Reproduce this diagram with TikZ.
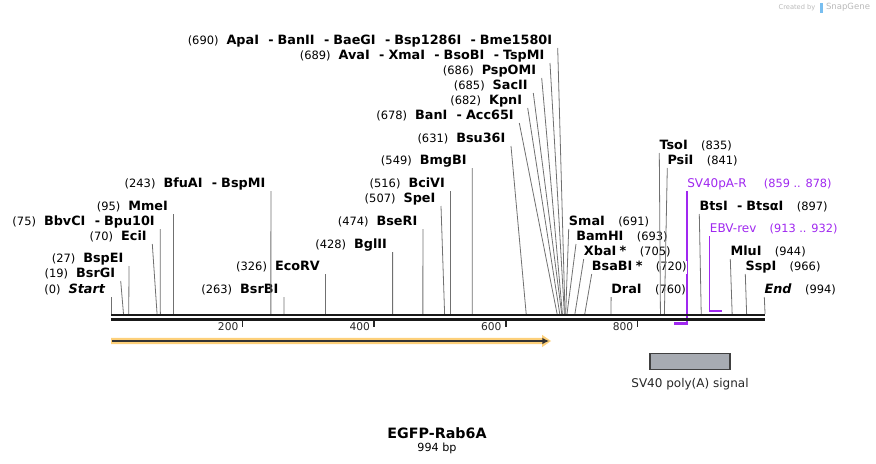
\documentclass[tikz,border=0pt]{standalone}
\usepackage{fontspec}
\setmainfont{DejaVu Sans}
\usepackage{xcolor}
\usetikzlibrary{arrows.meta,positioning}
\definecolor{cutgray}{RGB}{112,112,112}
\definecolor{primerpurple}{RGB}{160,40,240}
\definecolor{featorange}{RGB}{253,208,122}
\definecolor{boxgray}{RGB}{167,171,178}
\definecolor{markgray}{RGB}{185,185,185}
\definecolor{markblue}{RGB}{120,190,240}
\newcommand{\sitepos}[1]{{\mdseries\fontsize{8.6}{9}\selectfont(#1)}}
\newcommand{\enzsep}{\hspace{7pt}-\hspace{3pt}}

\begin{document}
\begin{tikzpicture}[x=0.75pt, y=-0.75pt,
    lsite/.style={anchor=south east, inner xsep=4pt, inner ysep=0pt,
        text height=7pt, text depth=2.5pt, font=\bfseries\fontsize{9.6}{10}\selectfont},
    rsite/.style={lsite, anchor=south west, inner xsep=0pt, fill=white},
    plabel/.style={rsite, font=\fontsize{9}{10}\selectfont, text=primerpurple},
    cut/.style={cutgray, line width=0.6pt},
    primer/.style={primerpurple, line width=1.1pt}]
    \useasboundingbox (0,0) rectangle (876,464);

    % cut sites on the sequence line
    \foreach \p in {0,19,27,70,75,95,243,263,326,428,474,507,516,549,631,678,682,685,686,689,690,
                    691,693,705,720,760,835,841,897,944,966,994}
        \coordinate (c\p) at ({111+0.658*\p},314);

    % primers
    \node (sv40r) at (687,191) [plabel] {SV40pA-R\hspace{13pt}{\fontsize{8.5}{10}\selectfont(859 .. 878)}};
    \node (ebv) at (709.7,236) [plabel] {EBV-rev\hspace{10pt}{\fontsize{8.5}{10}\selectfont(913 .. 932)}};
    \coordinate (p878) at (687,323.5);
    \coordinate (p859) at (674.3,323.5);
    \coordinate (e913) at (709.7,310.7);
    \coordinate (e932) at (722,310.7);
    \draw [primer] (sv40r.south west) -- (p878);
    \draw [primer, line width=1.8pt] ([xshift=0.4pt]p878) -- (p859);
    \draw [primer] (ebv.south west) -- (e913);
    \draw [primer, line width=1.8pt] ([xshift=-0.4pt]e913) -- (e932);

    % enzymes left of their line
    \node (start) at (111,297) [lsite] {\sitepos{0}\hspace{6pt}\textit{Start}};
    \node (bsrgi) at (120.7,281) [lsite] {\sitepos{19}\hspace{6pt}BsrGI};
    \node (bspei) at (129,266) [lsite] {\sitepos{27}\hspace{6pt}BspEI};
    \node (ecii) at (152.3,244) [lsite] {\sitepos{70}\hspace{6pt}EciI};
    \node (bbvci) at (160.3,229) [lsite] {\sitepos{75}\hspace{6pt}BbvCI\enzsep Bpu10I};
    \node (mmei) at (173.5,214) [lsite] {\sitepos{95}\hspace{6pt}MmeI};
    \node (bfuai) at (270.9,191) [lsite] {\sitepos{243}\hspace{6pt}BfuAI\enzsep BspMI};
    \node (bsrbi) at (284,297) [lsite] {\sitepos{263}\hspace{6pt}BsrBI};
    \node (ecorv) at (325.5,274) [lsite] {\sitepos{326}\hspace{6pt}EcoRV};
    \node (bglii) at (392.6,252) [lsite] {\sitepos{428}\hspace{6pt}BglII};
    \node (bseri) at (422.9,229) [lsite] {\sitepos{474}\hspace{6pt}BseRI};
    \node (spei) at (441,206) [lsite] {\sitepos{507}\hspace{6pt}SpeI};
    \node (bcivi) at (450.5,191) [lsite] {\sitepos{516}\hspace{6pt}BciVI};
    \node (bmgbi) at (472.2,168) [lsite] {\sitepos{549}\hspace{6pt}BmgBI};
    \node (bsu) at (511,146) [lsite] {\sitepos{631}\hspace{6pt}Bsu36I};
    \node (bani) at (519.3,123) [lsite] {\sitepos{678}\hspace{6pt}BanI\enzsep Acc65I};
    \node (kpni) at (527.7,108) [lsite] {\sitepos{682}\hspace{6pt}KpnI};
    \node (sacii) at (533.3,93) [lsite] {\sitepos{685}\hspace{6pt}SacII};
    \node (pspomi) at (541.7,78) [lsite] {\sitepos{686}\hspace{6pt}PspOMI};
    \node (avai) at (550,63) [lsite] {\sitepos{689}\hspace{6pt}AvaI\enzsep XmaI\enzsep BsoBI\enzsep TspMI};
    \node (apai) at (557.7,48) [lsite] {\sitepos{690}\hspace{6pt}ApaI\enzsep BanII\enzsep BaeGI\enzsep Bsp1286I\enzsep Bme1580I};

    % enzymes right of their line
    \node (smai) at (568.7,229) [rsite] {SmaI\hspace{10pt}\sitepos{691}};
    \node (bamhi) at (576,244) [rsite] {BamHI\hspace{10pt}\sitepos{693}};
    \node (xbai) at (583.7,259) [rsite] {XbaI\hspace{2.5pt}*\hspace{10pt}\sitepos{705}};
    \node (bsabi) at (591.7,274) [rsite] {BsaBI\hspace{2.5pt}*\hspace{10pt}\sitepos{720}};
    \node (drai) at (611.1,297) [rsite] {DraI\hspace{10pt}\sitepos{760}};
    \node (tsoi) at (659.3,153) [rsite] {TsoI\hspace{10pt}\sitepos{835}};
    \node (psii) at (667.3,168) [rsite] {PsiI\hspace{10pt}\sitepos{841}};
    \node (btsi) at (699.3,214) [rsite] {BtsI\enzsep BtsαI\hspace{10pt}\sitepos{897}};
    \node (mlui) at (730.3,259) [rsite] {MluI\hspace{10pt}\sitepos{944}};
    \node (sspi) at (745.3,274) [rsite] {SspI\hspace{10pt}\sitepos{966}};
    \node (end) at (764.3,297) [rsite] {\textit{End}\hspace{10pt}\sitepos{994}};

    \draw [cut] (start.south east) -- (c0);
    \draw [cut] (bsrgi.south east) -- (c19);
    \draw [cut] (bspei.south east) -- (c27);
    \draw [cut] (ecii.south east) -- (c70);
    \draw [cut] (bbvci.south east) -- (c75);
    \draw [cut] (mmei.south east) -- (c95);
    \draw [cut] (bfuai.south east) -- (c243);
    \draw [cut] (bsrbi.south east) -- (c263);
    \draw [cut] (ecorv.south east) -- (c326);
    \draw [cut] (bglii.south east) -- (c428);
    \draw [cut] (bseri.south east) -- (c474);
    \draw [cut] (spei.south east) -- (c507);
    \draw [cut] (bcivi.south east) -- (c516);
    \draw [cut] (bmgbi.south east) -- (c549);
    \draw [cut] (bsu.south east) -- (c631);
    \draw [cut] (bani.south east) -- (c678);
    \draw [cut] (kpni.south east) -- (c682);
    \draw [cut] (sacii.south east) -- (c685);
    \draw [cut] (pspomi.south east) -- (c686);
    \draw [cut] (avai.south east) -- (c689);
    \draw [cut] (apai.south east) -- (c690);
    \draw [cut] (smai.south west) -- (c691);
    \draw [cut] (bamhi.south west) -- (c693);
    \draw [cut] (xbai.south west) -- (c705);
    \draw [cut] (bsabi.south west) -- (c720);
    \draw [cut] (drai.south west) -- (c760);
    \draw [cut] (tsoi.south west) -- (c835);
    \draw [cut] (psii.south west) -- (c841);
    \draw [cut] (btsi.south west) -- (c897);
    \draw [cut] (mlui.south west) -- (c944);
    \draw [cut] (sspi.south west) -- (c966);
    \draw [cut] (end.south west) -- (c994);

    % sequence line and scale
    \coordinate (seqL) at (111,315.2);
    \coordinate (seqR) at (765,315.2);
    \draw [line width=1.8pt, black!90] (seqL) -- (seqR);
    \draw [line width=1.8pt, black!90] ([yshift=-3.2pt]seqL) -- ([yshift=-3.2pt]seqR);
    \foreach \t in {200,400,600,800} {
        \draw [line width=1.1pt, black!85] ({111+0.658*\t},321) -- ({111+0.658*\t},326.7);
        \node (t\t) at ({111+0.658*\t-4},326.7) [anchor=east, inner sep=0pt,
            font=\fontsize{8}{9}\selectfont, text=black!85] {\t};
    }

    % features
    \fill [featorange] (111,337.8) -- (542,337.8) -- (542,334.8) -- (551,341) -- (542,347.2)
        -- (542,344.2) -- (111,344.2) -- cycle;
    \draw [line width=1.5pt, black!80, -{Latex[length=5pt,width=5pt]}] (112,341) -- (549,341);
    \node (polya) at (690,361.5) [draw=black!75, fill=boxgray, line width=0.8pt,
        minimum width=60pt, minimum height=12pt, inner sep=0pt] {};
    \node (polyalbl) [below=3pt of polya, font=\fontsize{9}{10}\selectfont, text=black!85] {SV40 poly(A) signal};

    % title
    \node (name) at (437,433) [font=\bfseries\fontsize{10.7}{12}\selectfont] {EGFP-Rab6A};
    \node (size) at (437,448) [font=\fontsize{8.4}{10}\selectfont] {994 bp};

    % watermark
    \node (made) at (797,7.5) [font=\fontsize{5}{6}\selectfont, text=markgray] {Created by};
    \fill [markblue] (819.5,3) rectangle (822.5,12.5);
    \node (sg) at (848,7.5) [font=\fontsize{6.4}{7}\selectfont, text=markgray] {SnapGene};
\end{tikzpicture}
\end{document}
